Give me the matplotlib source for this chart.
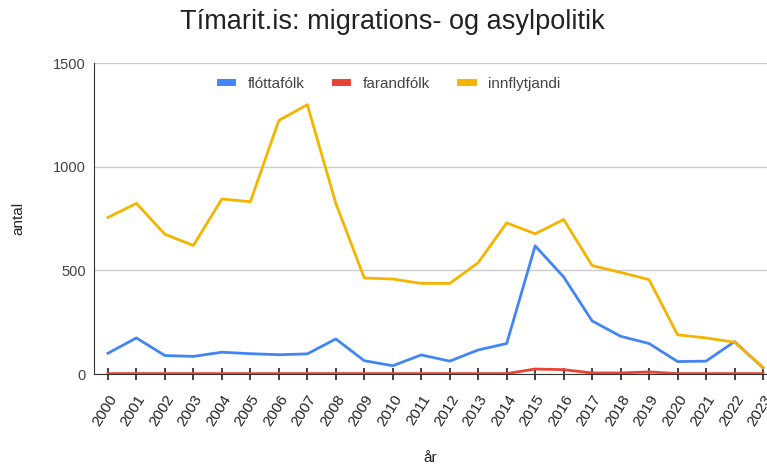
import matplotlib
matplotlib.use("Agg")
import matplotlib.pyplot as plt

plt.rcParams["font.family"] = ["Liberation Sans", "DejaVu Sans"]

years = list(range(2000, 2024))
floettafolk = [100, 174, 89, 85, 105, 98, 93, 97, 169, 64, 40, 92, 62, 116, 147,
               618, 468, 256, 182, 147, 60, 62, 156, 30]
farandfolk = [2, 2, 2, 2, 2, 2, 2, 2, 2, 2, 2, 2, 2, 2, 2,
              24, 21, 5, 5, 10, 2, 2, 2, 2]
innflytjandi = [755, 823, 674, 620, 844, 831, 1223, 1299, 823, 463, 458, 437, 437,
                537, 729, 676, 745, 523, 490, 455, 189, 174, 153, 32]

fig = plt.figure(figsize=(7.67, 4.66), dpi=100)
ax = fig.add_axes([94 / 767, 1 - 374 / 466, 673 / 767, 311 / 466])

ax.plot(years, floettafolk, color="#4285f4", lw=2, label="flóttafólk")
ax.plot(years, farandfolk, color="#ea4335", lw=2, label="farandfólk")
ax.plot(years, innflytjandi, color="#f4b400", lw=2, label="innflytjandi")

ax.set_xlim(1999.51, 2023.14)
ax.set_ylim(0, 1500)
ax.set_yticks([0, 500, 1000, 1500])
ax.set_xticks(years)
ax.set_xticklabels([str(y) for y in years], rotation=58, ha="right",
                   rotation_mode="anchor", fontsize=11, color="#222222")
ax.tick_params(axis="x", direction="inout", length=9, width=1.2, color="#222222", pad=9)
ax.tick_params(axis="y", length=0, labelsize=10.5, labelcolor="#444444", pad=6)
ax.grid(axis="y", color="#cccccc", lw=1)
ax.set_axisbelow(True)
for s in ["top", "right"]:
    ax.spines[s].set_visible(False)
ax.spines["left"].set_color("#333333")
ax.spines["bottom"].set_color("#333333")
ax.spines["bottom"].set_zorder(1)

ax.set_xlabel("år", fontsize=11, color="#222222", labelpad=16)
ax.set_ylabel("antal", fontsize=11, color="#222222", labelpad=20)

leg = ax.legend(loc="upper center", bbox_to_anchor=(0.44, 1.0), ncol=3, frameon=False,
                fontsize=11, handlelength=0.8, columnspacing=2.0, handletextpad=1.0)
for h in leg.get_lines():
    h.set_linewidth(5)
for t in leg.get_texts():
    t.set_color("#444444")

fig.text(392 / 767, 1 - 22 / 466, "Tímarit.is: migrations- og asylpolitik",
         ha="center", va="center", fontsize=19.5, color="#222222")

fig.savefig("out.png", dpi=100)
